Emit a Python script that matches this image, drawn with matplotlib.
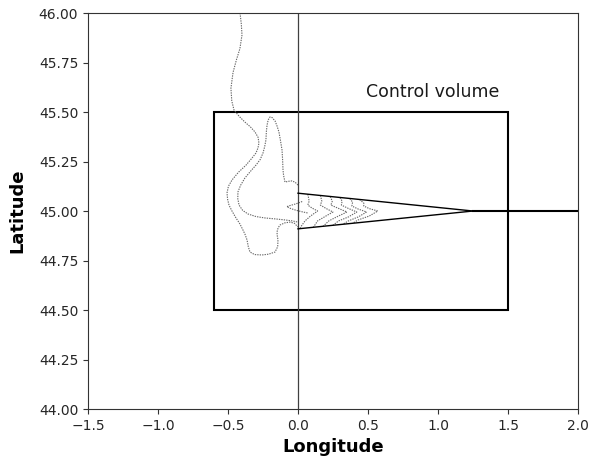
import matplotlib
matplotlib.use("Agg")
import matplotlib.pyplot as plt
from matplotlib.patches import Rectangle

# control volume box (lon/lat corners)
box_lon = [-0.6, 1.5]
box_lat = [44.5, 45.5]

# wedge outline: upper edge, lower edge, centre line out to the right border
wedge_top_lon = [0.0, 1.25]
wedge_top_lat = [45.09, 45.0]
wedge_bot_lon = [0.0, 1.25]
wedge_bot_lat = [44.91, 45.0]
tail_lon = [1.25, 2.0]
tail_lat = [45.0, 45.0]

# outer plume contour
outer_lon = [-0.414, -0.405, -0.40, -0.415, -0.44, -0.464, -0.479, -0.473, -0.457,
             -0.42, -0.379, -0.34, -0.307, -0.285, -0.279, -0.286, -0.30, -0.335,
             -0.371, -0.425, -0.471, -0.497, -0.507, -0.503, -0.493, -0.47, -0.443,
             -0.415, -0.393, -0.377, -0.364, -0.355, -0.343, -0.31, -0.257, -0.21,
             -0.164, -0.145, -0.143, -0.148, -0.15, -0.142, -0.129, -0.095, -0.057,
             -0.025, 0.0]
outer_lat = [46.0, 45.945, 45.889, 45.82, 45.763, 45.70, 45.62, 45.556, 45.510,
             45.478, 45.449, 45.425, 45.399, 45.372, 45.343, 45.318, 45.293, 45.262,
             45.232, 45.196, 45.157, 45.125, 45.091, 45.06, 45.030, 44.998, 44.965,
             44.935, 44.904, 44.88, 44.854, 44.82, 44.793, 44.78, 44.778, 44.782,
             44.793, 44.82, 44.854, 44.875, 44.894, 44.915, 44.929, 44.94, 44.944,
             44.938, 44.919]

# inner "finger" contour
inner_lon = [0.0, -0.02, -0.043, -0.07, -0.093, -0.103, -0.107, -0.11, -0.114,
             -0.125, -0.136, -0.15, -0.164, -0.185, -0.20, -0.213, -0.221, -0.226,
             -0.229, -0.238, -0.25, -0.27, -0.30, -0.34, -0.379, -0.41, -0.429,
             -0.43, -0.421, -0.395, -0.357, -0.30, -0.236, -0.16, -0.093, -0.04, 0.0]
inner_lat = [45.131, 45.145, 45.152, 45.15, 45.146, 45.18, 45.207, 45.26, 45.308,
             45.355, 45.399, 45.43, 45.455, 45.472, 45.475, 45.46, 45.434, 45.40,
             45.359, 45.325, 45.293, 45.26, 45.232, 45.20, 45.167, 45.13, 45.096,
             45.062, 45.030, 45.003, 44.985, 44.972, 44.965, 44.96, 44.955, 44.95, 44.944]

# small tongue just left of the wedge mouth
tongue_lon = [0.03, 0.0, -0.03, -0.06, -0.08, -0.05, -0.01, 0.03, 0.07]
tongue_lat = [45.048, 45.04, 45.033, 45.027, 45.022, 45.012, 45.003, 44.996, 44.99]

# nested contours inside the wedge
chev_lon = [
    [0.07, 0.08, 0.07, 0.10, 0.14, 0.09, 0.05, 0.015],
    [0.16, 0.17, 0.16, 0.20, 0.25, 0.20, 0.14, 0.11],
    [0.23, 0.245, 0.235, 0.29, 0.35, 0.29, 0.22, 0.18],
    [0.30, 0.315, 0.31, 0.36, 0.42, 0.36, 0.29, 0.25],
    [0.37, 0.39, 0.385, 0.43, 0.49, 0.43, 0.36, 0.32],
    [0.44, 0.47, 0.47, 0.51, 0.57, 0.51, 0.43, 0.39],
]
chev_lat = [
    [45.085, 45.05, 45.03, 45.015, 45.0, 44.975, 44.95, 44.915],
    [45.079, 45.05, 45.03, 45.013, 44.995, 44.975, 44.95, 44.918],
    [45.073, 45.05, 45.03, 45.013, 44.995, 44.975, 44.95, 44.923],
    [45.068, 45.05, 45.03, 45.013, 44.995, 44.97, 44.95, 44.928],
    [45.063, 45.045, 45.025, 45.01, 44.995, 44.97, 44.95, 44.933],
    [45.058, 45.04, 45.025, 45.012, 45.0, 44.975, 44.955, 44.938],
]

xticks = [-1.5, -1.0, -0.5, 0.0, 0.5, 1.0, 1.5, 2.0]
yticks = [44.0, 44.25, 44.5, 44.75, 45.0, 45.25, 45.5, 45.75, 46.0]

fig = plt.figure(figsize=(5.89, 4.65), dpi=100)
ax = fig.add_axes([0.1494, 0.1204, 0.8319, 0.8516])

contour_style = dict(color="0.4", lw=0.8, ls=(0, (1.2, 1.0)))
ax.plot(outer_lon, outer_lat, **contour_style)
ax.plot(inner_lon, inner_lat, **contour_style)
ax.plot(tongue_lon, tongue_lat, **contour_style)
for lo, la in zip(chev_lon, chev_lat):
    ax.plot(lo, la, **contour_style)

ax.axvline(0.0, color="0.25", lw=0.9)
ax.plot(wedge_top_lon, wedge_top_lat, color="black", lw=1.0)
ax.plot(wedge_bot_lon, wedge_bot_lat, color="black", lw=1.0)
ax.plot(tail_lon, tail_lat, color="black", lw=1.5)

ax.add_patch(Rectangle((box_lon[0], box_lat[0]), box_lon[1] - box_lon[0],
                       box_lat[1] - box_lat[0], fill=False, ec="black", lw=1.5))
ax.text(0.965, 45.6, "Control volume", fontsize=12.5, ha="center", va="center",
        color="0.1")

ax.set_xlim(-1.5, 2.0)
ax.set_ylim(44.0, 46.0)
ax.set_xticks(xticks)
ax.set_yticks(yticks)
ax.set_yticklabels([f"{v:.2f}" for v in yticks])
ax.tick_params(labelcolor="0.15", color="0.2")
ax.set_xlabel("Longitude", fontsize=13, fontweight="bold")
ax.set_ylabel("Latitude", fontsize=13, fontweight="bold", labelpad=9)
for s in ax.spines.values():
    s.set_color("0.2")

fig.savefig("out.png", dpi=100)
